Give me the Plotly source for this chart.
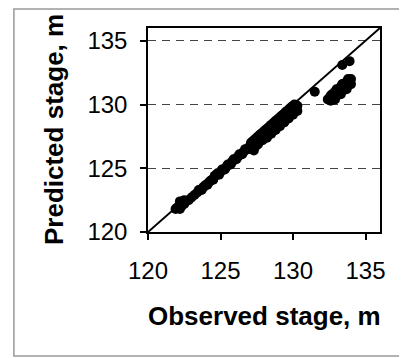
import plotly.graph_objects as go

# 1:1 reference line extent
line_range = [120, 136]

# Band near the low end
obs_a = [121.9, 122.0, 122.1, 122.2, 122.3, 122.4, 122.2, 122.3, 122.5, 122.6, 122.8, 123.0, 122.5]
pred_a = [121.8, 121.9, 122.0, 121.8, 122.1, 122.3, 122.4, 122.0, 122.2, 122.4, 122.5, 122.7, 122.5]

# Narrow band 123-127
obs_b = [123.2, 123.4, 123.6, 123.8, 124.0, 124.2, 124.4, 124.6, 124.8, 125.0,
         125.2, 125.4, 125.6, 125.8, 126.0, 126.2, 126.4, 126.6, 126.8, 127.0,
         123.5, 123.9, 124.3, 124.7, 125.1, 125.5, 125.9, 126.3, 126.7,
         123.7, 124.1, 124.5, 124.9, 125.3, 125.7, 126.1, 126.5, 126.9]
pred_b = [122.9, 123.1, 123.3, 123.5, 123.7, 123.9, 124.1, 124.4, 124.6, 124.7,
          124.9, 125.1, 125.3, 125.5, 125.7, 125.9, 126.1, 126.3, 126.5, 126.7,
          123.3, 123.6, 124.0, 124.5, 124.9, 125.3, 125.7, 126.1, 126.5,
          123.3, 123.7, 124.1, 124.5, 124.9, 125.3, 125.7, 126.1, 126.5]

# Thick band 127-130
obs_c = [127.1, 127.2, 127.3, 127.4, 127.5, 127.6, 127.7, 127.8, 127.9, 128.0,
         128.1, 128.2, 128.3, 128.4, 128.5, 128.6, 128.7, 128.8, 128.9, 129.0,
         129.1, 129.2, 129.3, 129.4, 129.5, 129.6, 129.7, 129.8, 129.9, 130.0,
         130.1, 130.3,
         127.3, 127.4, 127.6, 127.9, 128.2, 128.5, 128.8, 129.1, 129.4, 129.7,
         130.0, 130.3,
         127.3, 127.7, 128.1, 128.5, 128.9, 129.3, 129.7, 130.1,
         127.5, 127.9, 128.3, 128.7, 129.1, 129.5, 129.9]
pred_c = [127.0, 127.1, 127.2, 127.3, 127.4, 127.5, 127.6, 127.7, 127.8, 127.9,
          128.0, 128.1, 128.2, 128.3, 128.4, 128.5, 128.6, 128.7, 128.8, 128.9,
          129.0, 129.1, 129.2, 129.3, 129.4, 129.5, 129.6, 129.7, 129.8, 129.9,
          130.0, 129.9,
          126.4, 126.7, 126.9, 127.2, 127.4, 127.7, 128.0, 128.3, 128.6, 128.9,
          129.2, 129.5,
          126.9, 127.2, 127.6, 128.0, 128.4, 128.8, 129.2, 129.6,
          126.8, 127.3, 127.6, 128.0, 128.4, 128.8, 129.3]

# Upper cluster 132-134 under the line
obs_d = [132.4, 132.5, 132.7, 132.9, 133.1, 133.3, 133.5, 133.7, 133.9, 134.0,
         132.6, 132.8, 133.0, 133.2, 133.4, 133.6, 133.8,
         132.7, 132.9, 133.1, 133.3, 133.5, 133.7, 133.9,
         132.6, 133.0, 133.4, 133.8, 132.9, 133.3, 133.7, 134.0]
pred_d = [130.4, 130.5, 130.7, 130.9, 131.1, 131.3, 131.5, 131.7, 131.9, 132.0,
          130.3, 130.5, 130.7, 130.9, 131.1, 131.3, 131.5,
          130.8, 131.0, 131.2, 131.4, 131.6, 131.8, 131.9,
          130.7, 131.2, 131.6, 132.0, 130.4, 130.8, 131.2, 131.6]

# Isolated points
obs_e = [131.5, 133.4, 133.9]
pred_e = [131.0, 133.1, 133.4]

observed = obs_a + obs_b + obs_c + obs_d + obs_e
predicted = pred_a + pred_b + pred_c + pred_d + pred_e

x_ticks = [120, 125, 130, 135]
y_ticks = [120, 125, 130, 135]

fig = go.Figure()
fig.add_trace(go.Scatter(x=observed, y=predicted, mode="markers",
                         marker=dict(color="black", size=10, line=dict(width=0)),
                         showlegend=False))
fig.add_trace(go.Scatter(x=line_range, y=line_range, mode="lines",
                         line=dict(color="black", width=2), showlegend=False))

fig.update_layout(
    width=399, height=350,
    margin=dict(l=140, r=27, t=20, b=126),
    paper_bgcolor="white", plot_bgcolor="white",
    font=dict(family="Liberation Sans, Arial", color="black"),
    xaxis=dict(range=line_range, tickvals=x_ticks, showgrid=False, zeroline=False,
               showline=True, linecolor="black", linewidth=1.5, mirror=True,
               ticks="outside", ticklen=6, tickcolor="black", tickwidth=1.5,
               ticklabelstandoff=10, tickfont=dict(size=24)),
    yaxis=dict(range=line_range, tickvals=y_ticks, showgrid=True, gridcolor="#444",
               griddash="8px,6px", gridwidth=1, zeroline=False,
               showline=True, linecolor="black", linewidth=1.5, mirror=True,
               ticks="outside", ticklen=6, tickcolor="black", tickwidth=1.5,
               ticklabelstandoff=8, tickfont=dict(size=24)),
    annotations=[
        dict(text="<b>Observed stage, m</b>", x=0.5, y=-0.412, xref="paper", yref="paper",
             showarrow=False, font=dict(size=26), xanchor="center", yanchor="middle"),
        dict(text="<b>Predicted stage, m</b>", x=-0.405, y=0.5, xref="paper", yref="paper",
             showarrow=False, font=dict(size=26), textangle=-90,
             xanchor="center", yanchor="middle"),
    ],
    shapes=[dict(type="rect", xref="paper", yref="paper", x0=-0.578, x1=1.099,
                 y0=-0.608, y1=1.093, line=dict(color="#999", width=1.5))],
)

fig.write_html("out.html")
